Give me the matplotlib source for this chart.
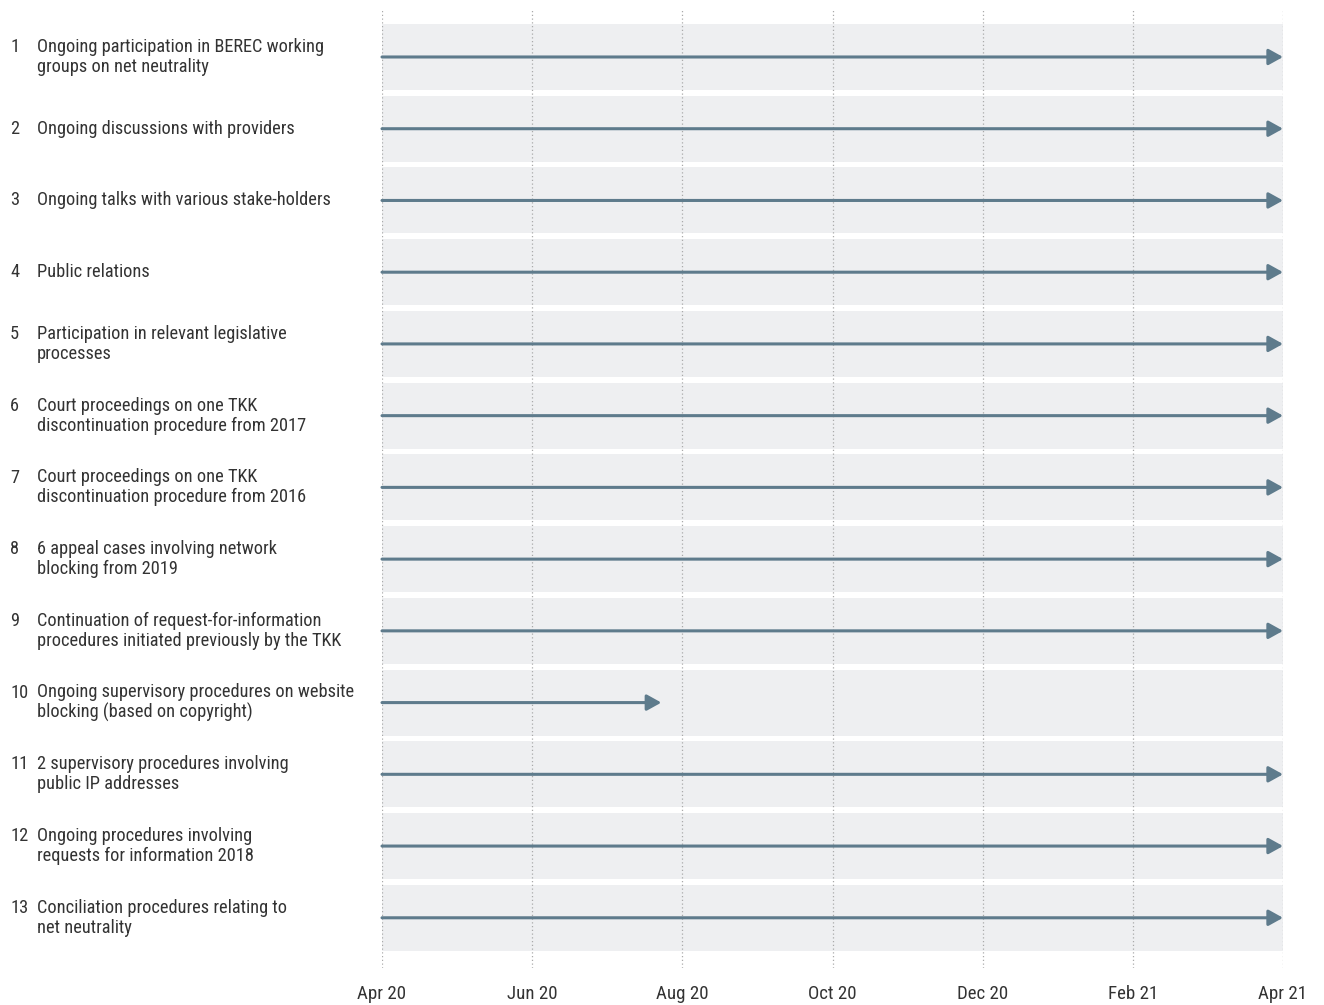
import matplotlib
matplotlib.use("Agg")
import matplotlib.pyplot as plt
from matplotlib.patches import Rectangle
from matplotlib import font_manager

available = {f.name for f in font_manager.fontManager.ttflist}
candidates = ['Roboto Condensed', 'Liberation Sans Narrow', 'Open Sans Condensed', 'Arial Narrow', 'Roboto']
chosen = [c for c in candidates if c in available]
main_font = chosen[0] if chosen else 'DejaVu Sans'
condensed = main_font != 'Roboto' and main_font != 'DejaVu Sans'
plt.rcParams['font.family'] = [main_font, 'DejaVu Sans']
FS = 13.2 if condensed else 11.5
TFS = 13.6 if condensed else 12

labels = [
    "Ongoing participation in BEREC working\ngroups on net neutrality",
    "Ongoing discussions with providers",
    "Ongoing talks with various stake-holders",
    "Public relations",
    "Participation in relevant legislative\nprocesses",
    "Court proceedings on one TKK\ndiscontinuation procedure from 2017",
    "Court proceedings on one TKK\ndiscontinuation procedure from 2016",
    "6 appeal cases involving network\nblocking from 2019",
    "Continuation of request-for-information\nprocedures initiated previously by the TKK",
    "Ongoing supervisory procedures on website\nblocking (based on copyright)",
    "2 supervisory procedures involving\npublic IP addresses",
    "Ongoing procedures involving\nrequests for information 2018",
    "Conciliation procedures relating to\nnet neutrality",
]
# months since Apr 2020
starts = [0]*13
ends = [12, 12, 12, 12, 12, 12, 12, 12, 12, 3.72, 12, 12, 12]
tick_pos = [0, 2, 4, 6, 8, 10, 12]
tick_labels = ["Apr 20", "Jun 20", "Aug 20", "Oct 20", "Dec 20", "Feb 21", "Apr 21"]

W, H = 1324, 1005
fig = plt.figure(figsize=(W/100, H/100), dpi=100)
ax = fig.add_axes([382/W, 1-968/H, (1283-382)/W, (968-10)/H])
ax.set_xlim(0, 12)
ax.set_ylim(13.70, 0.345)
for s in ax.spines.values():
    s.set_visible(False)
ax.set_yticks([])
ax.set_xticks(tick_pos)
ax.set_xticklabels(tick_labels, fontsize=TFS, color='#333333')
ax.tick_params(axis='x', length=0, pad=12)

arrow_color = '#5e7b8c'
band_h = 0.92
for i, (lab, s, e) in enumerate(zip(labels, starts, ends)):
    y = i + 1
    ax.add_patch(Rectangle((0, y - band_h/2), 12, band_h, facecolor='#eeeff1', edgecolor='none', zorder=0))
    ax.annotate("", xy=(e, y), xytext=(s, y),
                arrowprops=dict(arrowstyle='-|>,head_length=0.72,head_width=0.4', color=arrow_color, lw=2.2,
                                shrinkA=0, shrinkB=0, mutation_scale=12), zorder=3)
    yfig = ax.transData.transform((0, y))[1] / H
    nlines = lab.count("\n") + 1
    fig.text(10/W, yfig, str(y) + "\n" * (nlines - 1) + (" " if nlines > 1 else ""),
             fontsize=FS, color='#333333', va='center', ha='left', linespacing=1.12)
    fig.text(37/W, yfig, lab, fontsize=FS, color='#333333', va='center', ha='left', linespacing=1.12)

for t in tick_pos:
    ax.axvline(t, color='#aaaaaa', lw=0.9, ls=(0, (1, 2)), zorder=1)

fig.savefig("out.png", dpi=100)
